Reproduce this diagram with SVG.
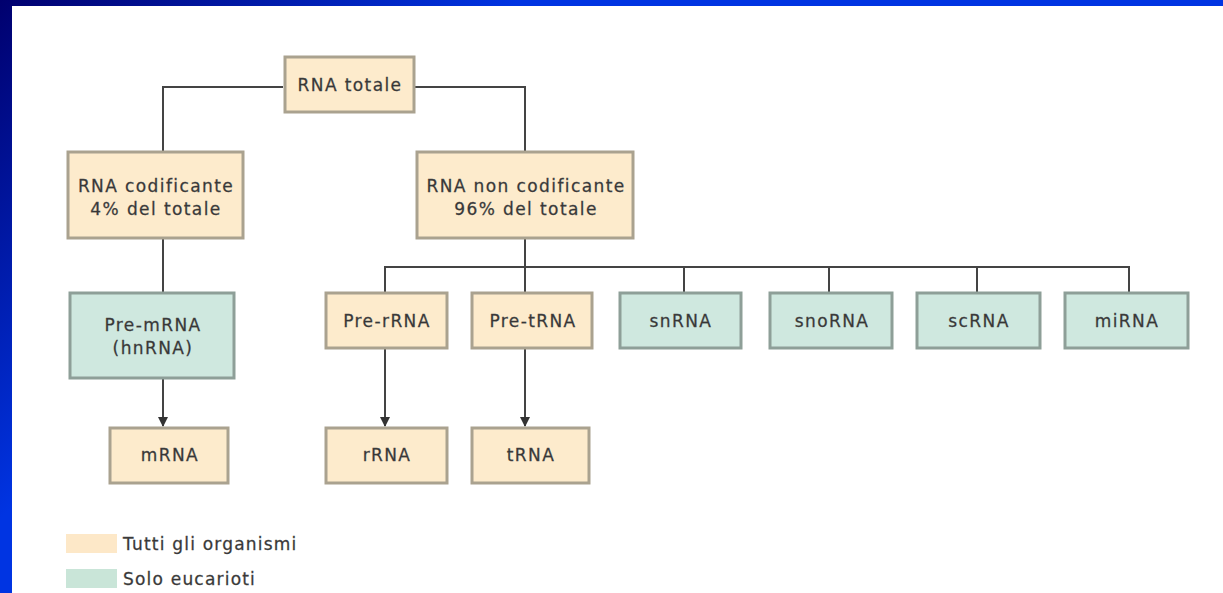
<svg xmlns="http://www.w3.org/2000/svg" width="1223" height="593" viewBox="0 0 1223 593">
<defs>
<linearGradient id="bg" gradientUnits="userSpaceOnUse" x1="0" y1="0" x2="260" y2="260">
<stop offset="0" stop-color="#00006e"/>
<stop offset="1" stop-color="#0034e2"/>
</linearGradient>
<marker id="arr" viewBox="0 0 10 10" refX="9" refY="5" markerWidth="5" markerHeight="5" orient="auto" markerUnits="strokeWidth">
<path d="M0,0 L10,5 L0,10 z" fill="#333"/>
</marker>
</defs>
<style>
.cream{fill:#fdebcc;stroke:#aaa28f;stroke-width:3}
.green{fill:#cfe8df;stroke:#8e9f98;stroke-width:3}
.lbl{font-family:"DejaVu Sans",sans-serif;font-size:17px;fill:#363636;stroke:#4a4a4a;stroke-width:0.3px;text-anchor:middle;letter-spacing:1.4px}
.leg{font-family:"DejaVu Sans",sans-serif;font-size:17px;fill:#363636;stroke:#4a4a4a;stroke-width:0.3px;letter-spacing:1.2px}
.ln{fill:none;stroke:#444;stroke-width:2}
</style>
<rect x="0" y="0" width="1223" height="593" fill="url(#bg)"/>
<rect x="12" y="6" width="1211" height="587" fill="#ffffff"/>

<g id="connectors">
<path class="ln" d="M283,87 H163 V152"/>
<path class="ln" d="M415,87 H525 V152"/>
<path class="ln" d="M163,237 V293"/>
<path class="ln" d="M525,237 V293"/>
<path class="ln" d="M385,293 V267 H1129 V293"/>
<path class="ln" d="M684,267 V293"/>
<path class="ln" d="M829,267 V293"/>
<path class="ln" d="M977,267 V293"/>
<path class="ln" d="M163,378 V426" marker-end="url(#arr)"/>
<path class="ln" d="M385,348 V426" marker-end="url(#arr)"/>
<path class="ln" d="M525,348 V426" marker-end="url(#arr)"/>
</g>

<g id="rna-totale">
<rect class="cream" x="285" y="57" width="129" height="55"/>
<text class="lbl" x="350" y="91">RNA totale</text>
</g>
<g id="rna-codificante">
<rect class="cream" x="68" y="152" width="175" height="86"/>
<text class="lbl" x="156" y="192">RNA codificante</text>
<text class="lbl" x="156" y="215">4% del totale</text>
</g>
<g id="rna-non-codificante">
<rect class="cream" x="417" y="152" width="216" height="86"/>
<text class="lbl" x="526" y="192">RNA non codificante</text>
<text class="lbl" x="526" y="215">96% del totale</text>
</g>
<g id="pre-mrna">
<rect class="green" x="70" y="293" width="164" height="85"/>
<text class="lbl" x="153" y="331">Pre-mRNA</text>
<text class="lbl" x="153" y="354">(hnRNA)</text>
</g>
<g id="pre-rrna">
<rect class="cream" x="326" y="293" width="121" height="55"/>
<text class="lbl" x="387" y="327">Pre-rRNA</text>
</g>
<g id="pre-trna">
<rect class="cream" x="472" y="293" width="120" height="55"/>
<text class="lbl" x="533" y="327">Pre-tRNA</text>
</g>
<g id="snrna">
<rect class="green" x="620" y="293" width="121" height="55"/>
<text class="lbl" x="681" y="327">snRNA</text>
</g>
<g id="snorna">
<rect class="green" x="770" y="293" width="122" height="55"/>
<text class="lbl" x="832" y="327">snoRNA</text>
</g>
<g id="scrna">
<rect class="green" x="917" y="293" width="123" height="55"/>
<text class="lbl" x="979" y="327">scRNA</text>
</g>
<g id="mirna">
<rect class="green" x="1065" y="293" width="123" height="55"/>
<text class="lbl" x="1127" y="327">miRNA</text>
</g>
<g id="mrna">
<rect class="cream" x="110" y="428" width="118" height="55"/>
<text class="lbl" x="170" y="461">mRNA</text>
</g>
<g id="rrna">
<rect class="cream" x="326" y="428" width="121" height="55"/>
<text class="lbl" x="387" y="461">rRNA</text>
</g>
<g id="trna">
<rect class="cream" x="472" y="428" width="117" height="55"/>
<text class="lbl" x="531" y="461">tRNA</text>
</g>
<g id="legend">
<rect x="66" y="534" width="51" height="19" fill="#fde8c8"/>
<text class="leg" x="123" y="550">Tutti gli organismi</text>
<rect x="66" y="569" width="51" height="19" fill="#c9e5d8"/>
<text class="leg" x="123" y="585">Solo eucarioti</text>
</g>
</svg>
